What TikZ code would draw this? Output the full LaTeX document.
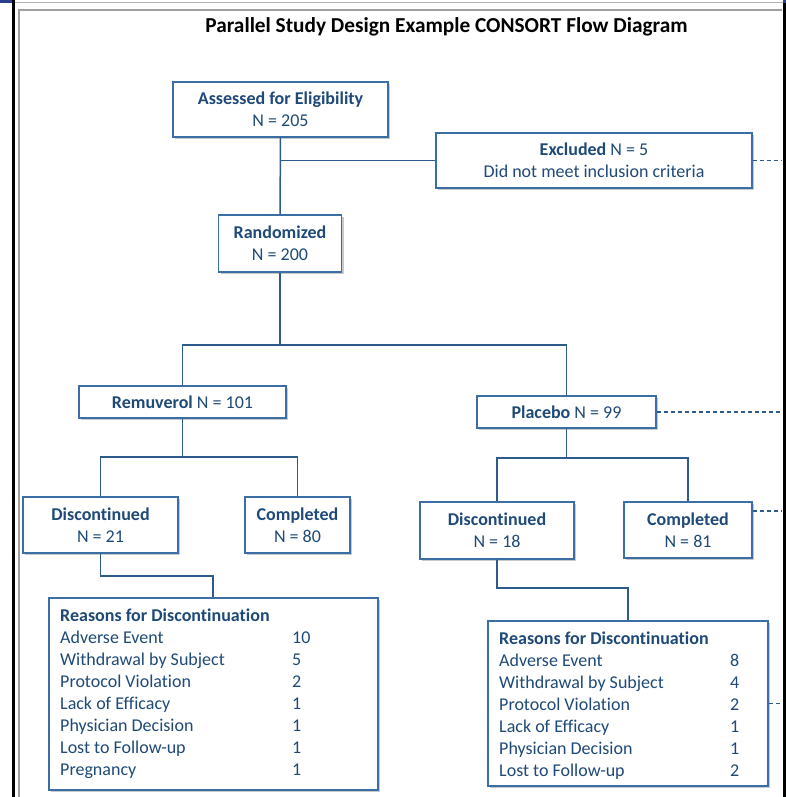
\documentclass[tikz,border=0pt]{standalone}
\usepackage{fontspec}
\setmainfont[Ligatures=NoCommon]{Carlito}
\usetikzlibrary{shadows}
\definecolor{txtblue}{HTML}{1F4A78}
\definecolor{boxblue}{HTML}{3A6EA5}
\definecolor{lineblue}{HTML}{2F5A8C}
\definecolor{stripblue}{HTML}{2B3E8F}
\tikzset{
  fbox/.style={draw=boxblue, line width=1.3pt, fill=white, text=txtblue,
    font=\fontsize{18}{22}\selectfont, align=center, inner sep=0pt,
    drop shadow={shadow xshift=2pt, shadow yshift=-2pt, opacity=0.35, fill=black!60}},
  conn/.style={draw=lineblue, line width=1.5pt},
  dconn/.style={draw=lineblue, line width=1.2pt, dash pattern=on 4pt off 3pt},
  listtext/.style={text=txtblue, font=\fontsize{18}{22}\selectfont, inner sep=0pt, anchor=north west}
}
\begin{document}
\begin{tikzpicture}[x=1pt,y=-1pt]
\useasboundingbox (0,0) rectangle (786,797);
% screen frame
\fill[white] (0,0) rectangle (786,797);
\fill[stripblue] (0,0) rectangle (12,3);
\fill[stripblue] (783,0) rectangle (786,3);
\fill[black] (12,0) rectangle (15,797);
\fill[black] (783,3) rectangle (786,797);
\draw[gray!60, line width=0.8pt] (15,2.7) -- (783,2.7);
\draw[gray!75, line width=2pt] (19,797) -- (19,10) -- (782,10);
% title
\node (title) at (446.5,27) {\fontsize{21.3}{24}\selectfont\bfseries Parallel Study Design Example CONSORT Flow Diagram};
% boxes
\node[fbox, minimum width=215pt, minimum height=55pt] (assess) at (280.5,109.5) {\textbf{Assessed for Eligibility}\\N = 205};
\node[fbox, minimum width=316pt, minimum height=55pt] (excl) at (594,160.5) {\textbf{Excluded} N = 5\\Did not meet inclusion criteria};
\node[fbox, minimum width=123pt, minimum height=57pt] (rand) at (280,243.5) {\textbf{Randomized}\\N = 200};
\node[fbox, minimum width=207pt, minimum height=32pt] (remu) at (182.5,402) {\textbf{Remuverol} N = 101};
\node[fbox, minimum width=179pt, minimum height=32pt] (plac) at (566.5,412) {\textbf{Placebo} N = 99};
\node[fbox, minimum width=155pt, minimum height=56pt] (discL) at (100.5,525) {\textbf{Discontinued}\\N = 21};
\node[fbox, minimum width=105pt, minimum height=56pt] (compL) at (297.5,525) {\textbf{Completed}\\N = 80};
\node[fbox, minimum width=154pt, minimum height=57pt] (discR) at (497,530.5) {\textbf{Discontinued}\\N = 18};
\node[fbox, minimum width=128pt, minimum height=56pt] (compR) at (688,530) {\textbf{Completed}\\N = 81};
\node[fbox, minimum width=329pt, minimum height=192pt] (reasL) at (213.5,694) {};
\node[fbox, minimum width=280pt, minimum height=165pt] (reasR) at (628,703.5) {};
\node[listtext] (listL) at (60,605.5) {\begin{tabular}{@{}p{220pt}l@{}}
\textbf{Reasons for Discontinuation} & \\
Adverse Event & 10\\
Withdrawal by Subject & 5\\
Protocol Violation & 2\\
Lack of Efficacy & 1\\
Physician Decision & 1\\
Lost to Follow-up & 1\\
Pregnancy & 1
\end{tabular}};
\node[listtext] (listR) at (499,628.5) {\begin{tabular}{@{}p{219pt}l@{}}
\textbf{Reasons for Discontinuation} & \\
Adverse Event & 8\\
Withdrawal by Subject & 4\\
Protocol Violation & 2\\
Lack of Efficacy & 1\\
Physician Decision & 1\\
Lost to Follow-up & 2
\end{tabular}};
% junctions
\coordinate (j1) at (280,345);
\coordinate (j2) at (182.5,457);
\coordinate (j3) at (566.5,458);
\coordinate (j4) at (213,576);
\coordinate (j5) at (628,588);
\coordinate (e1) at (782,160.5);
\coordinate (e2) at (782,412);
\coordinate (e3) at (782,511);
\coordinate (e4) at (782,703.5);
% connectors
\draw[conn] (assess.south) -- (rand.north);
\draw[conn] (assess.south |- excl.west) -- (excl.west);
\draw[conn] (rand.south) -- (j1);
\draw[conn] (remu.north) |- (j1) -| (plac.north);
\draw[conn] (remu.south) -- (j2);
\draw[conn] (discL.north) |- (j2) -| (compL.north);
\draw[conn] (plac.south) -- (j3);
\draw[conn] (discR.north) |- (j3) -| (compR.north);
\draw[conn] (discL.south) |- (j4) -- (j4 |- reasL.north);
\draw[conn] (discR.south) |- (j5) -- (j5 |- reasR.north);
\draw[dconn] (excl.east) -- (e1);
\draw[dconn] (plac.east) -- (e2);
\draw[dconn] (e3 -| compR.east) -- (e3);
\draw[dconn] (reasR.east) -- (e4);
\end{tikzpicture}
\end{document}
